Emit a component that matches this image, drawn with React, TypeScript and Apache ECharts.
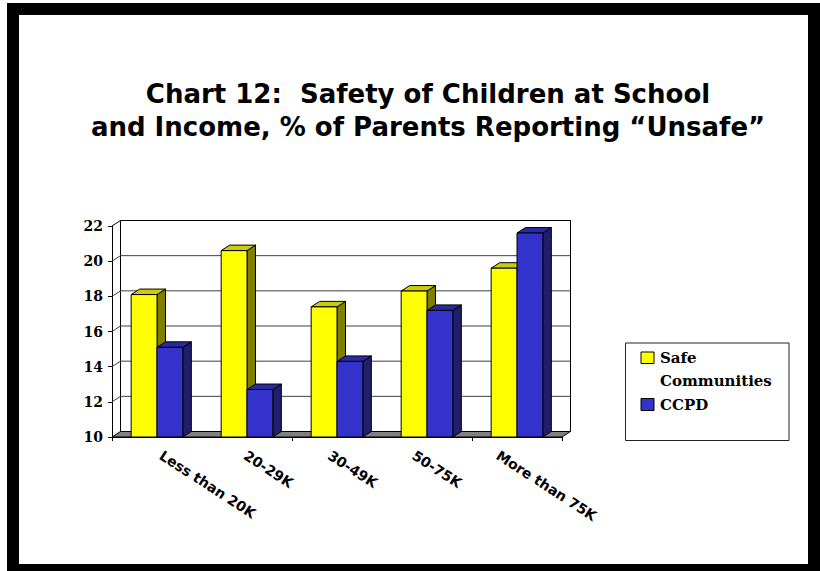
import React, { useEffect, useRef } from 'react';
import * as echarts from 'echarts';

const categories = ['Less than 20K', '20-29K', '30-49K', '50-75K', 'More than 75K'];
const safeCommunities = [18.1, 20.6, 17.4, 18.3, 19.6];
const ccpd = [15.1, 12.7, 14.3, 17.2, 21.6];
const yTicks = [10, 12, 14, 16, 18, 20, 22];
const seriesNames = ['Safe Communities', 'CCPD'];
const titleLines = ['Chart 12:  Safety of Children at School', 'and Income, % of Parents Reporting \u201cUnsafe\u201d'];

const Y_MIN = 10;
const Y_MAX = 22;
const DX = 8.5;
const DY = -5.5;

const yellow = { front: '#FFFF00', top: '#CCCC00', side: '#808000' };
const blue = { front: '#3333CC', top: '#2929A3', side: '#1F1F6B' };

function bar3d(side: 'left' | 'right', pal: { front: string; top: string; side: string }) {
  return (params: any, api: any) => {
    const cat = api.value(0);
    const val = api.value(1);
    const top = api.coord([cat, val]);
    const base = api.coord([cat, Y_MIN]);
    const band = api.size([1, 0])[0];
    const bw = band * 0.287;
    const x0 = side === 'left' ? top[0] - bw : top[0];
    const y1 = top[1];
    const y0 = base[1];
    const st = { stroke: '#000', lineWidth: 1, lineJoin: 'round' };
    return {
      type: 'group',
      children: [
        {
          type: 'polygon',
          shape: { points: [[x0 + bw, y1], [x0 + bw + DX, y1 + DY], [x0 + bw + DX, y0 + DY], [x0 + bw, y0]] },
          style: { fill: pal.side, ...st },
        },
        {
          type: 'polygon',
          shape: { points: [[x0, y1], [x0 + bw, y1], [x0 + bw + DX, y1 + DY], [x0 + DX, y1 + DY]] },
          style: { fill: pal.top, ...st },
        },
        {
          type: 'rect',
          shape: { x: x0, y: y1, width: bw, height: y0 - y1 },
          style: { fill: pal.front, ...st },
        },
      ],
    };
  };
}

function wallRender(params: any, api: any) {
  const cs = params.coordSys;
  const left = cs.x;
  const right = cs.x + cs.width;
  const yb = api.coord([0, Y_MIN])[1];
  const yt = api.coord([0, Y_MAX])[1];
  const children: any[] = [];
  children.push({
    type: 'rect',
    shape: { x: left + DX, y: yt + DY, width: right - left, height: yb - yt },
    style: { fill: '#fff', stroke: '#000', lineWidth: 1 },
  });
  yTicks.forEach((v) => {
    if (v === Y_MIN) return;
    const y = api.coord([0, v])[1];
    children.push({
      type: 'polyline',
      shape: { points: [[left, y], [left + DX, y + DY], [right + DX, y + DY]] },
      style: { fill: 'none', stroke: v === Y_MAX ? '#000' : '#404040', lineWidth: 1 },
    });
  });
  children.push({
    type: 'polygon',
    shape: { points: [[left, yb], [right, yb], [right + DX, yb + DY], [left + DX, yb + DY]] },
    style: { fill: '#808080', stroke: '#000', lineWidth: 1 },
  });
  return { type: 'group', children };
}

export default function App() {
  const ref = useRef<HTMLDivElement>(null);
  useEffect(() => {
    if (!ref.current) return;
    const chart = echarts.init(ref.current, null, { renderer: 'svg' });
    const serifBold = { fontFamily: 'DejaVu Serif', fontWeight: 'bold' as const, color: '#000' };
    chart.setOption({
      animation: false,
      backgroundColor: '#fff',
      title: {
        text: titleLines.join('\n'),
        left: 428,
        top: 77,
        padding: 0,
        textAlign: 'center',
        textStyle: {
          fontFamily: 'DejaVu Sans',
          fontWeight: 'bold',
          fontSize: 26,
          lineHeight: 33,
          color: '#000',
        },
      },
      grid: [
        { left: 112, right: 258, top: 226, bottom: 134, containLabel: false },
        { left: 118.9, right: 280.1, top: 226, bottom: 134, containLabel: false },
      ],
      xAxis: [
        {
          type: 'category',
          gridIndex: 0,
          data: categories,
          axisLine: { show: true, lineStyle: { color: '#000', width: 1 } },
          axisTick: { show: true, length: 4, lineStyle: { color: '#000' } },
          axisLabel: { show: false },
          splitLine: { show: false },
        },
        {
          type: 'category',
          gridIndex: 1,
          data: categories,
          axisLine: { show: false },
          axisTick: { show: false },
          axisLabel: {
            show: true,
            interval: 0,
            rotate: -33,
            margin: 17,
            fontFamily: 'DejaVu Sans',
            fontWeight: 'bold',
            fontSize: 14,
            color: '#000',
          },
          splitLine: { show: false },
        },
      ],
      yAxis: [
        {
          type: 'value',
          gridIndex: 0,
          min: Y_MIN,
          max: Y_MAX,
          interval: 2,
          axisLine: { show: true, lineStyle: { color: '#000', width: 1 } },
          axisTick: { show: true, length: 4, lineStyle: { color: '#000' } },
          axisLabel: { ...serifBold, fontSize: 14, margin: 9 },
          splitLine: { show: false },
        },
        { type: 'value', gridIndex: 1, min: 0, max: 1, show: false },
      ],
      series: [
        {
          type: 'custom',
          name: 'walls',
          xAxisIndex: 0,
          yAxisIndex: 0,
          renderItem: wallRender,
          data: [[0, Y_MIN]],
          encode: { x: 0, y: 1 },
          z: 1,
          silent: true,
        },
        {
          type: 'custom',
          name: seriesNames[0],
          xAxisIndex: 0,
          yAxisIndex: 0,
          renderItem: bar3d('left', yellow),
          data: safeCommunities.map((v, i) => [i, v]),
          encode: { x: 0, y: 1 },
          itemStyle: { color: yellow.front },
          z: 3,
        },
        {
          type: 'custom',
          name: seriesNames[1],
          xAxisIndex: 0,
          yAxisIndex: 0,
          renderItem: bar3d('right', blue),
          data: ccpd.map((v, i) => [i, v]),
          encode: { x: 0, y: 1 },
          itemStyle: { color: blue.front },
          z: 3,
        },
      ],
      graphic: [
        {
          type: 'rect',
          shape: { x: 13, y: 9, width: 801, height: 561 },
          style: { fill: 'none', stroke: '#000', lineWidth: 12 },
          z: 100,
          silent: true,
        },
        {
          type: 'group',
          left: 625,
          top: 342.5,
          children: [
            {
              type: 'rect',
              shape: { x: 0.5, y: 0.5, width: 163.5, height: 97.5 },
              style: { fill: '#fff', stroke: '#222', lineWidth: 1 },
            },
            {
              type: 'rect',
              shape: { x: 16, y: 9.5, width: 13, height: 11.5 },
              style: { fill: yellow.front, stroke: '#000', lineWidth: 1 },
            },
            {
              type: 'text',
              x: 35,
              y: 4.5,
              style: {
                text: 'Safe\nCommunities',
                fontFamily: 'DejaVu Serif',
                fontWeight: 'bold',
                fontSize: 15,
                lineHeight: 22.5,
                fill: '#000',
                verticalAlign: 'top',
              },
            },
            {
              type: 'rect',
              shape: { x: 16, y: 56, width: 13, height: 12 },
              style: { fill: blue.front, stroke: '#000', lineWidth: 1 },
            },
            {
              type: 'text',
              x: 35,
              y: 51,
              style: {
                text: seriesNames[1],
                fontFamily: 'DejaVu Serif',
                fontWeight: 'bold',
                fontSize: 15,
                lineHeight: 22.5,
                fill: '#000',
                verticalAlign: 'top',
              },
            },
          ],
        },
      ],
    });
    return () => chart.dispose();
  }, []);
  return (
    <div
      ref={ref}
      style={{ position: 'absolute', left: 0, top: 0, width: 820, height: 571, background: '#fff' }}
    />
  );
}
